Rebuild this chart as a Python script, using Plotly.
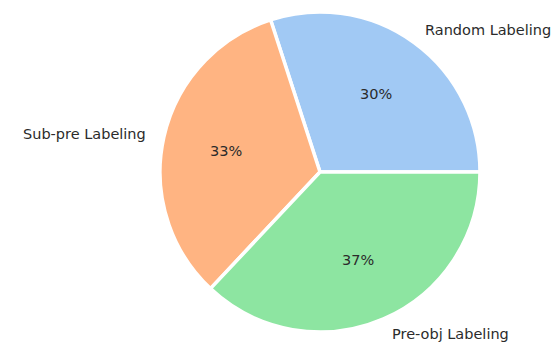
import numpy as np
import plotly.graph_objects as go

# Share of each labeling strategy
labels = ["Random Labeling", "Sub-pre Labeling", "Pre-obj Labeling"]
shares = [30, 33, 37]
colors = ["#a1c9f4", "#ffb482", "#8de5a1"]

W, H = 555, 342
cx, cy, r = 320, 172, 160  # pie centre and radius in pixels
FONT = dict(family="DejaVu Sans", size=14.5, color="#2b2b2b")

# first wedge begins at 3 o'clock and the wedges run counterclockwise
first_share_deg = 360.0 * shares[0] / sum(shares)

fig = go.Figure(go.Pie(
    labels=labels,
    values=shares,
    sort=False,
    direction="counterclockwise",
    rotation=90 - first_share_deg,
    marker=dict(colors=colors, line=dict(color="white", width=3.5)),
    textinfo="none",
    hoverinfo="label+percent",
    showlegend=False,
    domain=dict(x=[(cx - r) / W, (cx + r) / W], y=[(H - cy - r) / H, (H - cy + r) / H]),
))

# Names outside each wedge (1.1 r) and percentages inside (0.6 r) at the mid-angle
total = sum(shares)
start = 0.0
annotations = []
for lab, v in zip(labels, shares):
    mid = np.deg2rad(start + 360.0 * v / total / 2)
    start += 360.0 * v / total
    c, s = np.cos(mid), np.sin(mid)
    annotations.append(dict(
        x=(cx + 1.1 * r * c) / W, y=1 - (cy - 1.1 * r * s) / H,
        xref="paper", yref="paper", text=lab, showarrow=False,
        xanchor="left" if c >= 0 else "right", yanchor="middle", font=FONT,
    ))
    annotations.append(dict(
        x=(cx + 0.6 * r * c) / W, y=1 - (cy - 0.6 * r * s) / H,
        xref="paper", yref="paper", text=f"{100.0 * v / total:.0f}%", showarrow=False,
        xanchor="center", yanchor="middle", font=FONT,
    ))

fig.update_layout(
    width=W, height=H,
    margin=dict(l=0, r=0, t=0, b=0),
    paper_bgcolor="white",
    plot_bgcolor="white",
    annotations=annotations,
)

fig.write_html("out.html")
